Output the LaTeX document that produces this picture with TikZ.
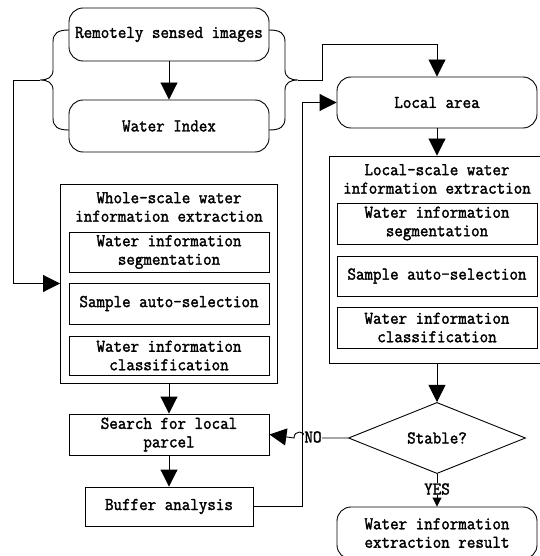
\documentclass[tikz,border=0pt]{standalone}
\usepackage{fontspec}
\setmonofont[FakeStretch=0.92,FakeBold=1.8]{Latin Modern Mono}
\usetikzlibrary{arrows.meta,shapes.geometric,positioning}

\begin{document}
\begin{tikzpicture}[x=1pt,y=-1pt,line width=0.9pt,
				every node/.style={font=\ttfamily\fontsize{18}{18.5}\selectfont, align=center, inner sep=1pt},
				box/.style={draw, minimum width=200pt},
				rbox/.style={draw, rounded corners=14pt, minimum width=200pt},
				frame/.style={draw, minimum width=217pt, minimum height=#1},
				decision/.style={draw, diamond, minimum width=177pt, minimum height=62pt, inner sep=0pt},
				lbl/.style={fill=white, inner sep=0pt},
				arr/.style={-{Triangle[length=17pt,width=17pt]}},
				sarr/.style={-{Triangle[length=9pt,width=9pt]}}]
	\useasboundingbox (0,0) rectangle (539,556);
	% left column
	\node[rbox, minimum height=53pt] (rsi) at (169,34.5) {Remotely sensed images};
	\node[rbox, minimum height=52pt] (wi) at (169,126) {Water Index};
	\node[frame=199pt] (whole) at (169,283.5) {};
	\node (wtitle) at (169,207) {Whole-scale water\\information extraction};
	\node[box, minimum height=40pt] (wseg) at (169,252) {Water information\\segmentation};
	\node[box, minimum height=41pt] (wsamp) at (169,303.5) {Sample auto-selection};
	\node[box, minimum height=39pt] (wcls) at (169,355.5) {Water information\\classification};
	\node[box, minimum height=41pt] (search) at (169,434.5) {Search for local\\parcel};
	\node[draw, minimum width=168pt, minimum height=39pt] (buffer) at (169,506.5) {Buffer analysis};
	% right column
	\node[rbox, minimum height=51pt] (local) at (437,102.5) {Local area};
	\node[frame=207pt] (lscale) at (437.5,259.5) {};
	\node (ltitle) at (437,179) {Local-scale water\\information extraction};
	\node[box, minimum height=41pt] (lseg) at (437,223.5) {Water information\\segmentation};
	\node[box, minimum height=40pt] (lsamp) at (437,276) {Sample auto-selection};
	\node[box, minimum height=41pt] (lcls) at (437,327.5) {Water information\\classification};
	\node[decision] (stable) at (437,438) {Stable?};
	\node[rbox, minimum height=52pt] (result) at (437,533) {Water information\\extraction result};
	% braces
	\coordinate (lbrace) at (40,80);
	\coordinate (rbrace) at (298,80);
	\draw (69,30) .. controls (58,30) and (53,33) .. (53,42) -- (53,70)
		.. controls (53,77) and (48,80) .. (lbrace)
		.. controls (48,80) and (53,83) .. (53,90) -- (53,118)
		.. controls (53,127) and (58,130) .. (69,130);
	\draw (269,30) .. controls (280,30) and (285,33) .. (285,42) -- (285,70)
		.. controls (285,77) and (290,80) .. (rbrace)
		.. controls (290,80) and (285,83) .. (285,90) -- (285,118)
		.. controls (285,127) and (280,130) .. (269,130);
	% connectors
	\draw[arr] (rsi) -- (wi);
	\draw[arr] (lbrace) -- ++(-27,0) |- (whole.west);
	\draw[arr] (rbrace) -- ++(24,0) -- ++(0,-36) -| (local.north);
	\draw[arr] (whole.south) -- (search.north);
	\draw[arr] (search) -- (buffer);
	\draw[arr] (buffer.east) -- ++(49,0) |- (local.west);
	\draw[arr] (local) -- (lscale.north -| local);
	\draw[arr] (lscale.south -| stable) -- (stable.north);
	\draw[sarr] (stable) -- (result);
	\draw[arr] (stable.west) -- (305,438) .. controls (305,430) and (294,430) .. (294,438) -- (search.east);
	\node[lbl] (no) at (313,437) {NO};
	\node[lbl] (yes) at (437,489) {YES};
\end{tikzpicture}
\end{document}
